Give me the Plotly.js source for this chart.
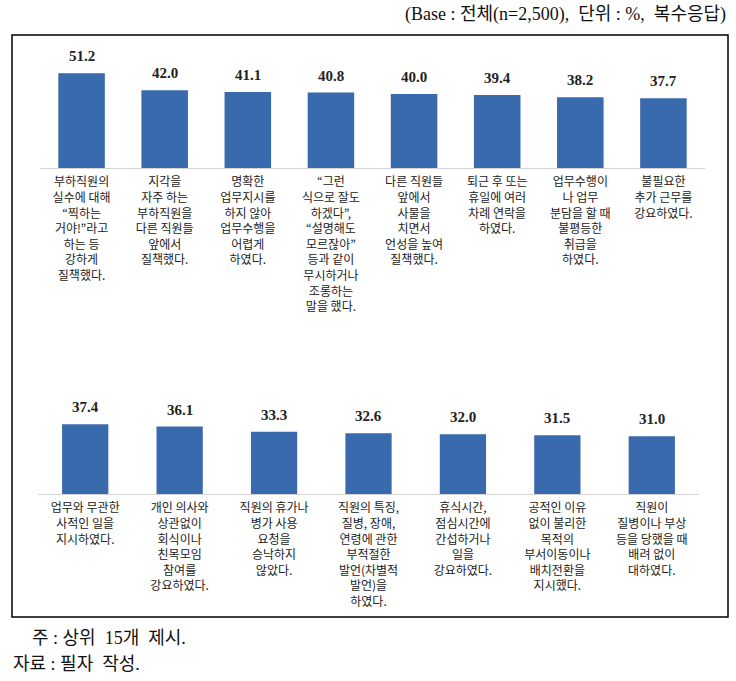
<!DOCTYPE html>
<html><head><meta charset="utf-8">
<script src="https://cdn.plot.ly/plotly-3.0.1.min.js"></script>
<style>html,body{margin:0;padding:0;background:#fff}#chart{width:736px;height:681px}</style>
</head><body><div id="chart"></div>
<script>
const topLabels = [
  "부하직원의<br>실수에 대해<br>“찍하는<br>거야!”라고<br>하는 등<br>강하게<br>질책했다.",
  "지각을<br>자주 하는<br>부하직원을<br>다른 직원들<br>앞에서<br>질책했다.",
  "명확한<br>업무지시를<br>하지 않아<br>업무수행을<br>어렵게<br>하였다.",
  "“그런<br>식으로 잘도<br>하겠다”,<br>“설명해도<br>모르잖아”<br>등과 같이<br>무시하거나<br>조롱하는<br>말을 했다.",
  "다른 직원들<br>앞에서<br>사물을<br>치면서<br>언성을 높여<br>질책했다.",
  "퇴근 후 또는<br>휴일에 여러<br>차례 연락을<br>하였다.",
  "업무수행이<br>나 업무<br>분담을 할 때<br>불평등한<br>취급을<br>하였다.",
  "불필요한<br>추가 근무를<br>강요하였다."
];
const topValues = [51.2, 42.0, 41.1, 40.8, 40.0, 39.4, 38.2, 37.7];

const bottomLabels = [
  "업무와 무관한<br>사적인 일을<br>지시하였다.",
  "개인 의사와<br>상관없이<br>회식이나<br>친목모임<br>참여를<br>강요하였다.",
  "직원의 휴가나<br>병가 사용<br>요청을<br>승낙하지<br>않았다.",
  "직원의 특징,<br>질병, 장애,<br>연령에 관한<br>부적절한<br>발언(차별적<br>발언)을<br>하였다.",
  "휴식시간,<br>점심시간에<br>간섭하거나<br>일을<br>강요하였다.",
  "공적인 이유<br>없이 불리한<br>목적의<br>부서이동이나<br>배치전환을<br>지시했다.",
  "직원이<br>질병이나 부상<br>등을 당했을 때<br>배려 없이<br>대하였다."
];
const bottomValues = [37.4, 36.1, 33.3, 32.6, 32.0, 31.5, 31.0];

const headerText = "(Base : 전체(n=2,500),  단위 : %,  복수응답)";
const noteText = "주 : 상위  15개  제시.";
const sourceText = "자료 : 필자  작성.";

const barColor = "#3a6aae";
const valFont = {family: "Liberation Serif, serif", size: 15, color: "#222"};
const textFont = {family: "Liberation Serif, Noto Sans CJK KR, serif", size: 18, color: "#111"};

const traces = [
  {type: "bar", x: topLabels, y: topValues, xaxis: "x", yaxis: "y",
   marker: {color: barColor}, width: 0.56, hoverinfo: "skip"},
  {type: "bar", x: bottomLabels, y: bottomValues, xaxis: "x2", yaxis: "y2",
   marker: {color: barColor}, width: 0.49, hoverinfo: "skip"}
];

const valueAnnotations = [];
topLabels.forEach((c, i) => valueAnnotations.push({
  x: c, y: topValues[i], xref: "x", yref: "y", text: "<b>" + topValues[i].toFixed(1) + "</b>",
  showarrow: false, yanchor: "bottom", yshift: 7, font: valFont}));
bottomLabels.forEach((c, i) => valueAnnotations.push({
  x: c, y: bottomValues[i], xref: "x2", yref: "y2", text: "<b>" + bottomValues[i].toFixed(1) + "</b>",
  showarrow: false, yanchor: "bottom", yshift: 7, font: valFont}));

const tickFont = {family: "Noto Sans CJK KR, sans-serif", size: 12, color: "#222"};
const xCommon = {type: "category", showline: true, linecolor: "#d4d4d4", linewidth: 1,
  ticks: "", showgrid: false, zeroline: false, tickfont: tickFont, tickangle: 0,
  fixedrange: true, automargin: false, ticklabelstandoff: 3};
const yCommon = {range: [0, 60], visible: false, showgrid: false, zeroline: false, fixedrange: true};

const layout = {
  width: 736, height: 681,
  margin: {l: 0, r: 0, t: 0, b: 0},
  paper_bgcolor: "#fff", plot_bgcolor: "rgba(0,0,0,0)",
  showlegend: false,
  xaxis: Object.assign({}, xCommon, {domain: [40/736, 705/736], anchor: "y"}),
  yaxis: Object.assign({}, yCommon, {domain: [(681-168)/681, (681-57)/681], anchor: "x"}),
  xaxis2: Object.assign({}, xCommon, {domain: [38/736, 699/736], anchor: "y2"}),
  yaxis2: Object.assign({}, yCommon, {domain: [(681-494)/681, (681-382)/681], anchor: "x2"}),
  shapes: [
    {type: "rect", xref: "paper", yref: "paper",
     x0: 12/736, x1: 728/736, y0: (681-617)/681, y1: (681-35)/681,
     line: {color: "#000", width: 1.5}, fillcolor: "rgba(0,0,0,0)", layer: "below"}
  ],
  annotations: valueAnnotations.concat([
    {text: headerText, xref: "paper", yref: "paper", x: 728/736, y: (681-14)/681,
     xanchor: "right", yanchor: "middle", showarrow: false, font: textFont},
    {text: noteText, xref: "paper", yref: "paper", x: 30/736, y: (681-638)/681,
     xanchor: "left", yanchor: "middle", showarrow: false, font: textFont},
    {text: sourceText, xref: "paper", yref: "paper", x: 11/736, y: (681-664)/681,
     xanchor: "left", yanchor: "middle", showarrow: false, font: textFont}
  ])
};

Plotly.newPlot("chart", traces, layout, {displayModeBar: false, staticPlot: true});
</script>
</body></html>
